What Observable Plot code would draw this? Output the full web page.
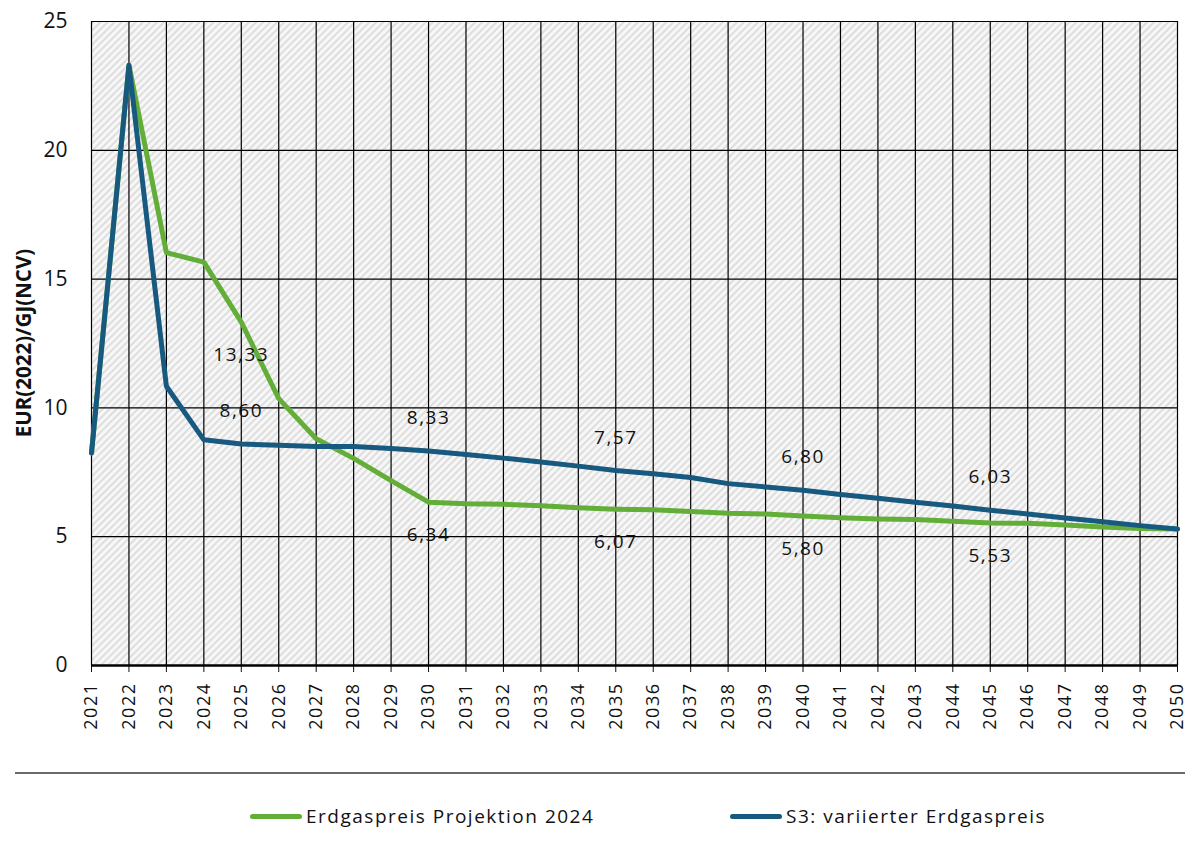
<!DOCTYPE html>
<html>
<head>
<meta charset="utf-8">
<script src="https://cdn.jsdelivr.net/npm/d3@7"></script>
<script src="https://cdn.jsdelivr.net/npm/@observablehq/plot@0.6"></script>
<style>
  body { margin: 0; background: #fff; font-family: "Open Sans", sans-serif; }
  #chart { width: 1193px; }
  .sep { position: absolute; left: 15px; top: 772px; width: 1170px; height: 2px; background: #6b6b6b; }
  .legend { position: absolute; top: 803px; left: 0; width: 1193px; height: 28px; font-size: 19px; letter-spacing: 1.5px; color: #111; }
  .item { position: absolute; display: flex; align-items: center; }
  .swatch { width: 52px; height: 5px; border-radius: 3px; margin-right: 4px; }
</style>
</head>
<body>
<div id="chart"></div>
<div class="sep"></div>
<div class="legend" id="legend"></div>
<script>
const years = d3.range(2021, 2051);
const seriesNames = ["Erdgaspreis Projektion 2024", "S3: variierter Erdgaspreis"];
const seriesColors = ["#62AE38", "#17597F"];
const greenValues = [8.25, 23.3, 16.03, 15.66, 13.33, 10.36, 8.80, 8.04, 7.18, 6.34,
  6.28, 6.26, 6.20, 6.12, 6.07, 6.05, 5.98, 5.91, 5.88, 5.80,
  5.74, 5.69, 5.67, 5.60, 5.53, 5.52, 5.45, 5.38, 5.32, 5.30];
const blueValues = [8.25, 23.3, 10.84, 8.76, 8.60, 8.55, 8.50, 8.50, 8.42, 8.33,
  8.19, 8.05, 7.90, 7.74, 7.57, 7.44, 7.30, 7.06, 6.93, 6.80,
  6.64, 6.49, 6.34, 6.19, 6.03, 5.88, 5.73, 5.58, 5.43, 5.30];
const labelYears = [2025, 2030, 2035, 2040, 2045];
const yTicks = [0, 5, 10, 15, 20, 25];

const green = years.map((y, i) => ({year: y, value: greenValues[i]}));
const blue = years.map((y, i) => ({year: y, value: blueValues[i]}));
const fmt = v => v.toFixed(2).replace(".", ",");
const greenLabels = green.filter(d => labelYears.includes(d.year));
const blueLabels = blue.filter(d => labelYears.includes(d.year));

const plot = Plot.plot({
  width: 1193,
  height: 760,
  marginLeft: 91,
  marginRight: 16,
  marginTop: 21,
  marginBottom: 95,
  style: {fontFamily: "Open Sans, sans-serif", background: "transparent", color: "#111"},
  x: {domain: [2021, 2050], ticks: years, tickFormat: d => String(d), label: null},
  y: {domain: [0, 25], ticks: yTicks, label: null},
  marks: [
    Plot.frame({fill: "url(#hatch)", stroke: "none"}),
    Plot.gridX(years, {stroke: "#000", strokeOpacity: 1, strokeWidth: 1.2}),
    Plot.gridY(yTicks, {stroke: "#000", strokeOpacity: 1, strokeWidth: 1.2}),
    Plot.axisX({ticks: years, tickRotate: -90, tickSize: 7, tickPadding: 10, fontSize: 18, tickFormat: d => String(d), label: null}),
    Plot.axisY({ticks: yTicks, tickSize: 0, tickPadding: 24, fontSize: 21, label: null}),
    Plot.ruleY([0], {stroke: "#000", strokeWidth: 2.5}),
    Plot.line(green, {x: "year", y: "value", stroke: seriesColors[0], strokeWidth: 5}),
    Plot.line(blue, {x: "year", y: "value", stroke: seriesColors[1], strokeWidth: 5}),
    Plot.text(greenLabels, {x: "year", y: "value", text: d => fmt(d.value), dy: 33, fontSize: 19, fill: "#111"}),
    Plot.text(blueLabels, {x: "year", y: "value", text: d => fmt(d.value), dy: -33, fontSize: 19, fill: "#111"})
  ]
});

const svg = d3.select(plot);
const defs = svg.insert("defs", ":first-child");
const pat = defs.append("pattern").attr("id", "hatch").attr("patternUnits", "userSpaceOnUse")
  .attr("width", 5).attr("height", 5).attr("patternTransform", "rotate(45)");
pat.append("rect").attr("width", 5).attr("height", 5).attr("fill", "#f7f7f7");
pat.append("rect").attr("width", 2).attr("height", 5).attr("fill", "#dedede");
svg.selectAll("[aria-label='x-axis tick label'] text").style("letter-spacing", "1.5px");
svg.selectAll("[aria-label='text'] text").style("letter-spacing", "1.5px");

// Y-axis title
svg.append("text")
  .attr("transform", `translate(31,${(21 + 665) / 2}) rotate(-90)`)
  .attr("text-anchor", "middle")
  .attr("font-size", 20.5)
  .attr("font-weight", "bold")
  .attr("fill", "#111")
  .text("EUR(2022)/GJ(NCV)");

document.getElementById("chart").appendChild(plot);

const legend = document.getElementById("legend");
const lefts = [250, 730];
seriesNames.forEach((name, i) => {
  const item = document.createElement("div");
  item.className = "item";
  item.style.left = lefts[i] + "px";
  item.innerHTML = `<div class="swatch" style="background:${seriesColors[i]}"></div><span>${name}</span>`;
  legend.appendChild(item);
});
</script>
</body>
</html>
